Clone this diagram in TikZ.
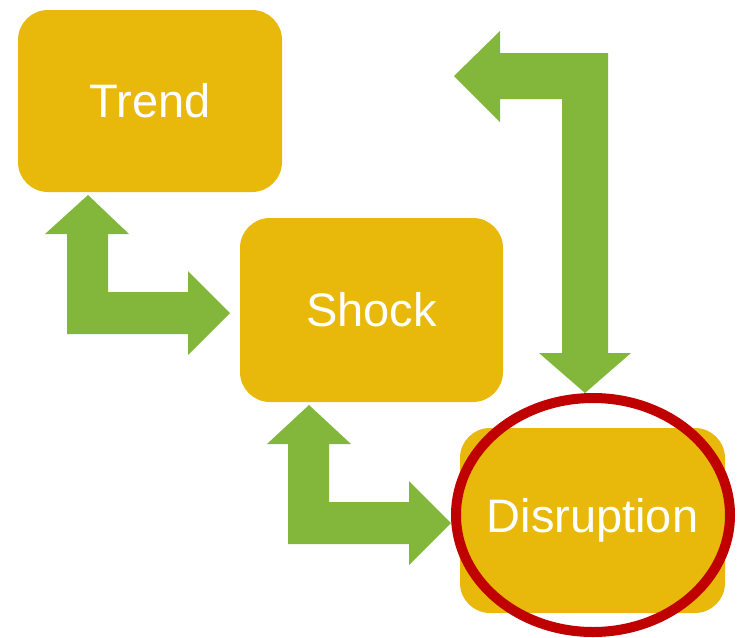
\documentclass[tikz,border=0pt]{standalone}
\usepackage{fontspec}
\setmainfont{Liberation Sans}
\usetikzlibrary{shapes.geometric}
\definecolor{boxyellow}{HTML}{E8B90A}
\definecolor{arrowgreen}{HTML}{82B73C}
\definecolor{ringred}{HTML}{C00000}
\tikzset{
  box/.style={fill=boxyellow, draw=none, rounded corners=30pt, inner sep=0pt,
    text=white, font=\fontsize{47}{51}\selectfont},
  blockarrow/.style={fill=arrowgreen, draw=none},
  ring/.style={draw=ringred, line width=10pt, ellipse, inner sep=0pt, fill=none}
}
\begin{document}
\begin{tikzpicture}[x=1pt,y=-1pt]
\useasboundingbox (0,0) rectangle (740,638);
% boxes
\node[box, minimum width=264pt, minimum height=182pt] (trend) at (150,101) {Trend};
\node[box, minimum width=263pt, minimum height=184pt] (shock) at (371.5,310) {Shock};
\node[box, minimum width=265pt, minimum height=185pt] (disruption) at (592.5,520.5) {Disruption};
% block arrows
\fill[blockarrow] (88,195) -- (129,234) -- (108,234) -- (108,292) -- (188,292) -- (188,271)
  -- (230,313) -- (188,355) -- (188,334) -- (67,334) -- (67,234) -- (45,234) -- cycle;
\fill[blockarrow] (309,405) -- (351,444) -- (329,444) -- (329,502) -- (409,502) -- (409,481)
  -- (451,523) -- (409,565) -- (409,544) -- (288,544) -- (288,444) -- (267,444) -- cycle;
\fill[blockarrow] (454,76) -- (500,31) -- (500,53) -- (608,53) -- (608,353) -- (631,353)
  -- (585,393) -- (539,353) -- (562,353) -- (562,99) -- (500,99) -- (500,122) -- cycle;
% red ring
\node[ring, minimum width=274pt, minimum height=234pt] (ringnode) at (593,515) {};
\end{tikzpicture}
\end{document}
